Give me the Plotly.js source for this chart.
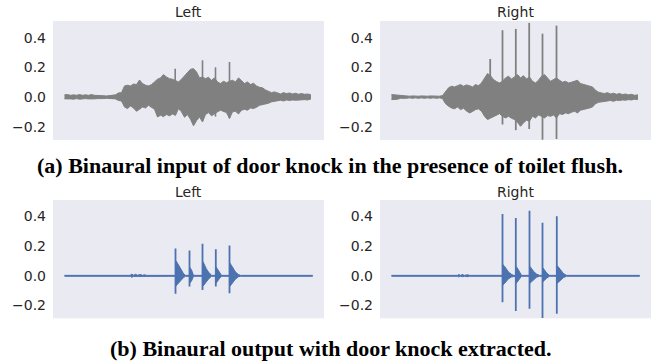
<!DOCTYPE html>
<html>
<head>
<meta charset="utf-8">
<script src="https://cdn.plot.ly/plotly-3.0.1.min.js"></script>
<style>
html,body{margin:0;padding:0;background:#fff;}
#chart{width:652px;height:362px;}
</style>
</head>
<body>
<div id="chart"></div>
<script>
// ---- Data (frames ~ time index; amplitudes) ----
const frames = [0,3,6,9,12,15,18,21,24,27,30,33,36,39,42,45,48,51,54,57,60,63,66,69,72,75,78,81,84,87,90,93,96,99,102,105,108,111,114,117,120,123,126,129,132,135,138,141,144,147,150,153,156,159,162,165,168,171,174,177,180,183,186,189,192,195,198,201,204,207,210,213,216,219,222,225,228,231,234,237,240,243,246];

// (a) input, Left channel envelope
const inLeftUpper = [0.016,0.018,0.013,0.016,0.013,0.018,0.013,0.016,0.013,0.018,
  0.013,0.011,0.011,0.011,0.009,0.011,0.011,0.016,0.029,0.031,
  0.076,0.081,0.076,0.089,0.085,0.116,0.092,0.081,0.076,0.085,
  0.103,0.121,0.130,0.152,0.136,0.125,0.121,0.114,0.103,0.121,
  0.143,0.166,0.188,0.192,0.170,0.130,0.136,0.125,0.134,0.114,
  0.130,0.103,0.092,0.107,0.098,0.107,0.114,0.103,0.130,0.112,
  0.092,0.103,0.085,0.094,0.076,0.067,0.063,0.049,0.040,0.031,
  0.036,0.027,0.022,0.031,0.025,0.029,0.022,0.027,0.020,0.025,
  0.020,0.022,0.018];
const inLeftLower = [-0.011,-0.013,-0.011,-0.013,-0.009,-0.013,-0.011,-0.009,-0.011,-0.013,
  -0.011,-0.009,-0.007,-0.009,-0.007,-0.007,-0.009,-0.011,-0.022,-0.025,
  -0.065,-0.076,-0.058,-0.072,-0.094,-0.081,-0.065,-0.072,-0.054,-0.067,
  -0.081,-0.132,-0.121,-0.130,-0.116,-0.125,-0.112,-0.121,-0.076,-0.098,
  -0.134,-0.116,-0.148,-0.192,-0.157,-0.132,-0.166,-0.116,-0.103,-0.125,
  -0.112,-0.098,-0.087,-0.094,-0.103,-0.143,-0.098,-0.094,-0.112,-0.087,
  -0.081,-0.087,-0.072,-0.076,-0.067,-0.054,-0.054,-0.045,-0.040,-0.031,
  -0.027,-0.022,-0.020,-0.025,-0.018,-0.022,-0.018,-0.020,-0.016,-0.018,
  -0.016,-0.018,-0.013];
const inLeftSpikeT   = [110.7, 138, 151, 165];
const inLeftSpikeTop = [0.192, 0.248, 0.201, 0.237];
const inLeftSpikeBot = [-0.12, -0.15, -0.13, -0.14];

// (a) input, Right channel envelope
const inRightUpper = [0.018,0.016,0.013,0.009,0.007,0.009,0.007,0.009,0.007,0.007,
  0.009,0.007,0.007,0.009,0.007,0.009,0.007,0.011,0.040,0.063,
  0.074,0.069,0.078,0.085,0.074,0.083,0.078,0.069,0.085,0.078,
  0.096,0.130,0.159,0.145,0.119,0.105,0.096,0.107,0.130,0.141,
  0.123,0.136,0.152,0.130,0.145,0.123,0.136,0.107,0.096,0.114,
  0.141,0.152,0.130,0.107,0.119,0.130,0.114,0.101,0.107,0.096,
  0.101,0.105,0.114,0.092,0.085,0.078,0.074,0.069,0.047,0.034,
  0.029,0.025,0.031,0.022,0.027,0.020,0.025,0.018,0.022,0.016,
  0.020,0.013,0.016];
const inRightLower = [-0.016,-0.013,-0.013,-0.007,-0.007,-0.007,-0.004,-0.007,-0.004,-0.007,
  -0.004,-0.007,-0.004,-0.007,-0.004,-0.007,-0.004,-0.009,-0.043,-0.060,
  -0.072,-0.078,-0.065,-0.083,-0.074,-0.092,-0.105,-0.096,-0.083,-0.078,
  -0.094,-0.128,-0.150,-0.139,-0.128,-0.119,-0.110,-0.128,-0.139,-0.128,
  -0.141,-0.150,-0.168,-0.195,-0.172,-0.154,-0.161,-0.128,-0.139,-0.119,
  -0.128,-0.139,-0.123,-0.128,-0.119,-0.139,-0.110,-0.116,-0.105,-0.110,
  -0.101,-0.094,-0.105,-0.087,-0.083,-0.078,-0.072,-0.065,-0.043,-0.034,
  -0.027,-0.029,-0.025,-0.022,-0.027,-0.020,-0.022,-0.018,-0.020,-0.016,
  -0.018,-0.013,-0.016];
const inRightSpikeT   = [98.7, 111, 124.3, 137.7, 151, 165];
const inRightSpikeTop = [0.257, 0.450, 0.459, 0.499, 0.427, 0.481];
const inRightSpikeBot = [-0.12, -0.183, -0.221, -0.213, -0.285, -0.280];

// (b) output, Left channel
const outLeftT     = [0,66,67,69,71,73,76,78,80,82,111,111.5,113,115,117,119,121,125,125.5,127,129,138,138.5,140,142,144,147,151,151.5,153,155,157,165,165.5,167,169,171,174,176,248];
const outLeftUpper = [0.003,0.003,0.012,0.004,0.010,0.004,0.009,0.003,0.007,0.003,0.003,0.100,0.085,0.060,0.035,0.015,0.003,0.003,0.055,0.040,0.003,0.003,0.095,0.070,0.045,0.025,0.003,0.003,0.060,0.045,0.020,0.003,0.003,0.085,0.070,0.045,0.025,0.008,0.003,0.003];
const outLeftLower = [-0.003,-0.003,-0.010,-0.004,-0.008,-0.004,-0.008,-0.003,-0.006,-0.003,-0.003,-0.068,-0.060,-0.045,-0.028,-0.012,-0.003,-0.003,-0.047,-0.035,-0.003,-0.003,-0.070,-0.060,-0.040,-0.022,-0.003,-0.003,-0.050,-0.038,-0.018,-0.003,-0.003,-0.070,-0.055,-0.038,-0.022,-0.006,-0.003,-0.003];
const outLeftSpikeT   = [111, 125, 138, 151.3, 165];
const outLeftSpikeTop = [0.184, 0.171, 0.216, 0.180, 0.204];
const outLeftSpikeBot = [-0.122, -0.073, -0.096, -0.073, -0.118];

// (b) output, Right channel
const outRightT     = [0,66,67,69,71,73,76,78,111,111.5,113,115,117,120,122,124.3,124.8,126.5,128,130,138,138.5,140,142,145,148,151,151.5,153,155,158,165.3,165.8,167.5,169.5,172,175,248];
const outRightUpper = [0.003,0.003,0.009,0.003,0.008,0.003,0.007,0.003,0.003,0.075,0.065,0.045,0.025,0.010,0.003,0.003,0.062,0.045,0.025,0.003,0.003,0.062,0.050,0.030,0.012,0.003,0.003,0.052,0.040,0.020,0.003,0.003,0.068,0.055,0.035,0.015,0.003,0.003];
const outRightLower = [-0.003,-0.003,-0.007,-0.003,-0.006,-0.003,-0.006,-0.003,-0.003,-0.060,-0.052,-0.038,-0.020,-0.008,-0.003,-0.003,-0.050,-0.038,-0.020,-0.003,-0.003,-0.050,-0.040,-0.025,-0.010,-0.003,-0.003,-0.040,-0.032,-0.016,-0.003,-0.003,-0.050,-0.042,-0.028,-0.012,-0.003,-0.003];
const outRightSpikeT   = [111, 124.3, 138, 151, 165.3];
const outRightSpikeTop = [0.418, 0.391, 0.440, 0.358, 0.402];
const outRightSpikeBot = [-0.178, -0.238, -0.222, -0.285, -0.256];

const panelTitles = ["Left", "Right", "Left", "Right"];
const captions = ["(a) Binaural input of door knock in the presence of toilet flush.",
                  "(b) Binaural output with door knock extracted."];
const yTicks = [-0.2, 0.0, 0.2, 0.4];

// ---- Build traces ----
const GRAY = "#808080", BLUE = "#4C72B0";
function envelope(t, up, lo, color, xa, ya) {
  const x = t.concat(t.slice().reverse());
  const y = up.concat(lo.slice().reverse());
  return {x:x, y:y, xaxis:xa, yaxis:ya, type:"scatter", mode:"lines",
          fill:"toself", fillcolor:color, line:{color:color, width:1},
          hoverinfo:"skip", showlegend:false};
}
function spikes(t, top, bot, color, xa, ya, w) {
  const x = [], y = [];
  for (let i = 0; i < t.length; i++) { x.push(t[i], t[i], null); y.push(top[i], bot[i], null); }
  return {x:x, y:y, xaxis:xa, yaxis:ya, type:"scatter", mode:"lines",
          line:{color:color, width:w}, hoverinfo:"skip", showlegend:false, connectgaps:false};
}
const traces = [
  envelope(frames, inLeftUpper, inLeftLower, GRAY, "x", "y"),
  spikes(inLeftSpikeT, inLeftSpikeTop, inLeftSpikeBot, GRAY, "x", "y", 1.6),
  envelope(frames, inRightUpper, inRightLower, GRAY, "x2", "y2"),
  spikes(inRightSpikeT, inRightSpikeTop, inRightSpikeBot, GRAY, "x2", "y2", 1.8),
  envelope(outLeftT, outLeftUpper, outLeftLower, BLUE, "x3", "y3"),
  spikes(outLeftSpikeT, outLeftSpikeTop, outLeftSpikeBot, BLUE, "x3", "y3", 1.8),
  envelope(outRightT, outRightUpper, outRightLower, BLUE, "x4", "y4"),
  spikes(outRightSpikeT, outRightSpikeTop, outRightSpikeBot, BLUE, "x4", "y4", 1.8)
];

// ---- Layout ----
const W = 652, H = 362;
const xdomL = [53/W, 324/W], xdomR = [380/W, 651/W];
const ydomT = [1-140/H, 1-21/H], ydomB = [1-318.3/H, 1-200/H];
const tickFont = {family:"DejaVu Sans", size:14, color:"#262626"};
function xax(dom, anchor) {
  return {domain:dom, anchor:anchor, range:[-11.5, 259.5], showgrid:false, zeroline:false,
          showline:false, showticklabels:false, ticks:"", fixedrange:true};
}
function yax(dom, anchor) {
  return {domain:dom, anchor:anchor, range:[-0.287, 0.512], showgrid:false, zeroline:false,
          showline:false, tickvals:yTicks, tickformat:".1f", ticks:"", tickfont:tickFont,
          ticklabelstandoff:6, fixedrange:true};
}
const ann = [];
const titlePos = [[xdomL, 12], [xdomR, 12], [xdomL, 191.5], [xdomR, 191.5]];
for (let i = 0; i < 4; i++) {
  const d = titlePos[i][0];
  ann.push({text:panelTitles[i], xref:"paper", yref:"paper", x:(d[0]+d[1])/2, y:1-titlePos[i][1]/H,
            xanchor:"center", yanchor:"middle", showarrow:false,
            font:{family:"DejaVu Sans", size:14, color:"#262626"}});
}
ann.push({text:"<b>"+captions[0]+"</b>", xref:"paper", yref:"paper", x:330/W, y:1-165/H,
          xanchor:"center", yanchor:"middle", showarrow:false,
          font:{family:"Liberation Serif", size:22, color:"#000"}});
ann.push({text:"<b>"+captions[1]+"</b>", xref:"paper", yref:"paper", x:330/W, y:1-348/H,
          xanchor:"center", yanchor:"middle", showarrow:false,
          font:{family:"Liberation Serif", size:22, color:"#000"}});

const layout = {
  width:W, height:H, margin:{l:0, r:0, t:0, b:0},
  paper_bgcolor:"#ffffff", plot_bgcolor:"#EAEAF2",
  showlegend:false,
  xaxis:xax(xdomL, "y"), yaxis:yax(ydomT, "x"),
  xaxis2:xax(xdomR, "y2"), yaxis2:yax(ydomT, "x2"),
  xaxis3:xax(xdomL, "y3"), yaxis3:yax(ydomB, "x3"),
  xaxis4:xax(xdomR, "y4"), yaxis4:yax(ydomB, "x4"),
  annotations:ann
};
Plotly.newPlot("chart", traces, layout, {staticPlot:true, displayModeBar:false});
</script>
</body>
</html>
